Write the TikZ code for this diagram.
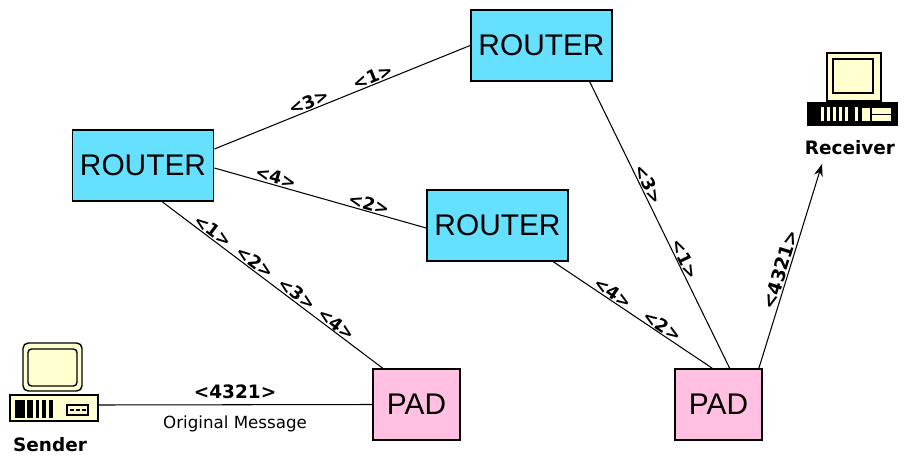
\documentclass[tikz,border=0pt]{standalone}
\usepackage{fontspec}
\setmainfont{Liberation Sans}
\newfontfamily\pktfont{DejaVu Sans}
\usepackage{tikz}
\usetikzlibrary{arrows.meta}
\usetikzlibrary{positioning}
\definecolor{routerblue}{RGB}{102, 224, 255}
\definecolor{padpink}{RGB}{255, 192, 226}
\definecolor{cream}{RGB}{255, 255, 208}
\tikzset{
  router/.style={draw=black, fill=routerblue, line width=1pt, minimum width=2.82cm, minimum height=1.42cm, inner sep=0pt, font=\fontsize{17}{20}\selectfont},
  pad/.style={router, fill=padpink, minimum width=1.74cm},
  link/.style={line width=0.6pt},
  hop/.style={sloped, above, inner sep=0.5pt, font=\pktfont\bfseries\fontsize{10}{12}\selectfont},
  bighop/.style={hop, font=\pktfont\bfseries\fontsize{10.5}{12}\selectfont},
  pcname/.style={font=\pktfont\bfseries\fontsize{10.5}{12}\selectfont},
  iconline/.style={draw=black, line width=0.8pt},
}

\begin{document}
\begin{tikzpicture}[x=0.02cm, y=-0.02cm]
            \useasboundingbox (0,0) rectangle (909,456);
            % routers and pads
            \node[router] (trouter) at (541.5, 45.5) {ROUTER};
            \node[router] (lrouter) at (143.0,165.5) {ROUTER};
            \node[router] (mrouter) at (497.5,225.5) {ROUTER};
            \node[pad]    (lpad)    at (416.5,404.5) {PAD};
            \node[pad]    (rpad)    at (718.5,404.5) {PAD};
            % sender
            \filldraw[iconline, fill=cream, rounded corners=3pt] ( 23,343) rectangle ( 82,391);
            \filldraw[iconline, fill=cream, rounded corners=2pt] ( 28,349) rectangle ( 77,386);
            \filldraw[iconline, fill=cream]                      ( 10,395) rectangle ( 98,421);
            \foreach \xa/\xb in {15/25, 27/33, 36/39, 42/46, 49/53}
                \fill ( \xa,400) rectangle ( \xb,418);
            \filldraw[iconline, fill=cream]                      ( 67,405) rectangle ( 88,415);
            \foreach \xa in {70, 76, 82}
                \draw[line width=0.6pt] ( \xa,410) -- ++(4,0);
            \node[pcname] (sndname) at ( 50,445) {Sender};
            \coordinate (sndout) at (98,405);
            % receiver
            \filldraw[iconline, fill=cream]                      (827, 53) rectangle (881,101);
            \filldraw[iconline, fill=cream]                      (833, 59) rectangle (873, 93);
            \filldraw[iconline, fill=black]                      (808,103) rectangle (897,125);
            \foreach \xa in {821, 827, 833, 839, 845}
                \fill[cream] ( \xa,107) rectangle ++(3,14);
            \fill[cream]                                         (855,107) rectangle (858,121);
            \filldraw[iconline, fill=cream]                      (861,107) rectangle (892,122);
            \draw[iconline] (871,107) -- (871,122);
            \draw[iconline] (871,114.5) -- (892,114.5);
            \node[pcname] (rcvname) at (850,148) {Receiver};
            \coordinate (rcvin) at (822,164);
            % links
            \draw[link] (sndout) -- node[above=0pt, pcname] {<4321>}
                 node[below=2.5pt, font=\pktfont\fontsize{9.5}{11}\selectfont] {Original Message} (lpad.west);
            \draw[link] (lrouter.13)  -- node[hop, pos=0.38] {<3>} node[hop, pos=0.63] {<1>} (trouter.west);
            \draw[link] (lrouter.-2)  -- node[hop, pos=0.28] {<4>} node[hop, pos=0.72] {<2>} (mrouter.182);
            \draw[link] (lrouter.-62) -- node[hop, pos=0.21] {<1>} node[hop, pos=0.40] {<2>}
                 node[hop, pos=0.59] {<3>} node[hop, pos=0.77] {<4>} (lpad.133);
            \draw[link] (trouter.-37) -- node[hop, pos=0.37] {<3>} node[hop, pos=0.63] {<1>} (rpad.73);
            \draw[link] (mrouter.-33) -- node[hop, pos=0.35] {<4>} node[hop, pos=0.66] {<2>} (rpad.100);
            \draw[link, -{Stealth[length=7pt, width=5pt]}] (rpad.42) -- node[bighop, pos=0.47] {<4321>} (rcvin);
        \end{tikzpicture}
\end{document}
